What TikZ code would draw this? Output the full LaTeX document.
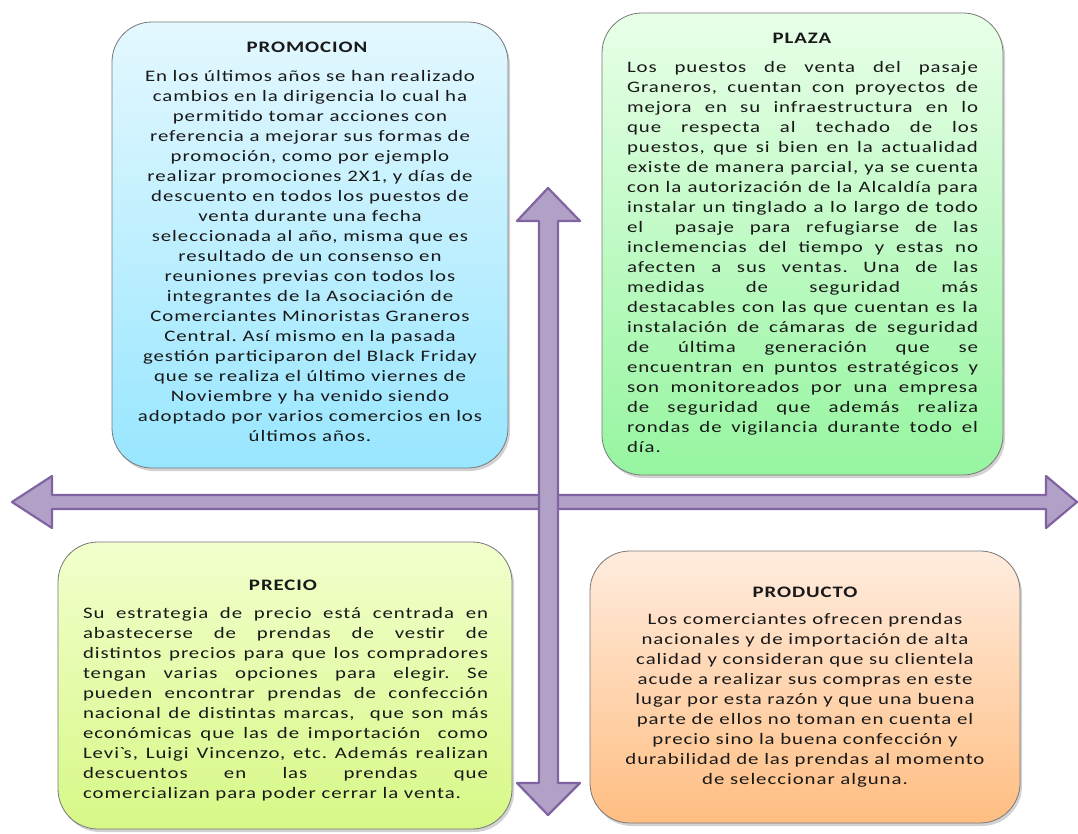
\documentclass[tikz,border=0pt]{standalone}
\usepackage{fontspec}
\newfontfamily\bx[FakeStretch=1.3,LetterSpace=6]{Carlito}
\usetikzlibrary{shadows}
\definecolor{arrfill}{RGB}{178,161,199}
\definecolor{arrline}{RGB}{128,100,162}
\definecolor{bluetop}{RGB}{228,248,255}
\definecolor{bluebot}{RGB}{152,230,255}
\definecolor{greentop}{RGB}{232,255,232}
\definecolor{greenbot}{RGB}{150,245,160}
\definecolor{limetop}{RGB}{242,255,205}
\definecolor{limebot}{RGB}{215,248,135}
\definecolor{orangetop}{RGB}{255,236,222}
\definecolor{orangebot}{RGB}{255,190,130}
\definecolor{boxline}{RGB}{120,120,120}
\definecolor{txt}{RGB}{25,25,25}
\newcommand\jl[2]{\makebox[#1][s]{#2}}
\frenchspacing
\begin{document}
\begin{tikzpicture}[x=1pt,y=-1pt,
  box/.style={draw=boxline, line width=0.8pt, rounded corners=40pt, inner sep=0pt,
    drop shadow={shadow xshift=2pt, shadow yshift=-3pt, opacity=0.35}},
  title/.style={inner sep=0pt, font=\frenchspacing\bx\bfseries\fontsize{16}{20}\selectfont, text=txt},
  body/.style={inner sep=0pt, font=\frenchspacing\bx\fontsize{16}{20}\selectfont, text=txt},
  arrowshape/.style={fill=arrfill, draw=arrline, line width=2.2pt, line join=round}]
\useasboundingbox (0,0) rectangle (1078,834);
\fill[white] (0,0) rectangle (1078,834);

% arrows
\draw[arrowshape] (12,502) -- (52,476) -- (52,495) -- (1046,495) -- (1046,476) -- (1077,502)
  -- (1046,528) -- (1046,509) -- (52,509) -- (52,528) -- cycle;
\draw[arrowshape] (548,188) -- (580,221) -- (558,221) -- (558,783) -- (580,783) -- (548,815)
  -- (517,783) -- (539,783) -- (539,221) -- (517,221) -- cycle;

% boxes
\node[box, top color=bluetop, bottom color=bluebot, minimum width=396pt, minimum height=446pt] (promo) at (310,245) {};
\node[box, top color=greentop, bottom color=greenbot, minimum width=401pt, minimum height=462pt] (plaza) at (802.5,244) {};
\node[box, top color=limetop, bottom color=limebot, minimum width=454pt, minimum height=287pt] (precio) at (285,685.5) {};
\node[box, top color=orangetop, bottom color=orangebot, minimum width=430pt, minimum height=272pt] (producto) at (805,687) {};

% PROMOCION
\node[title] (promoT) at (307,47) {PROMOCION};
\node[body, align=center] (promoB) at (310,256) {En los últimos años se han realizado\\
cambios en la dirigencia lo cual ha\\
permitido tomar acciones con\\
referencia a mejorar sus formas de\\
promoción, como por ejemplo\\
realizar promociones 2X1, y días de\\
descuento en todos los puestos de\\
venta durante una fecha\\
seleccionada al año, misma que es\\
resultado de un consenso en\\
reuniones previas con todos los\\
integrantes de la Asociación de\\
Comerciantes Minoristas Graneros\\
Central. Así mismo en la pasada\\
gestión participaron del Black Friday\\
que se realiza el último viernes de\\
Noviembre y ha venido siendo\\
adoptado por varios comercios en los\\
últimos años.};

% PLAZA
\node[title] (plazaT) at (802,38) {PLAZA};
\node[body, align=left] (plazaB) at (802.5,257.5) {\jl{351pt}{Los puestos de venta del pasaje}\\
\jl{351pt}{Graneros, cuentan con proyectos de}\\
\jl{351pt}{mejora en su infraestructura en lo}\\
\jl{351pt}{que respecta al techado de los}\\
\jl{351pt}{puestos, que si bien en la actualidad}\\
\jl{351pt}{existe de manera parcial, ya se cuenta}\\
\jl{351pt}{con la autorización de la Alcaldía para}\\
\jl{351pt}{instalar un tinglado a lo largo de todo}\\
\jl{351pt}{el \ pasaje para refugiarse de las}\\
\jl{351pt}{inclemencias del tiempo y estas no}\\
\jl{351pt}{afecten a sus ventas. Una de las}\\
\jl{351pt}{medidas de seguridad más}\\
\jl{351pt}{destacables con las que cuentan es la}\\
\jl{351pt}{instalación de cámaras de seguridad}\\
\jl{351pt}{de última generación que se}\\
\jl{351pt}{encuentran en puntos estratégicos y}\\
\jl{351pt}{son monitoreados por una empresa}\\
\jl{351pt}{de seguridad que además realiza}\\
\jl{351pt}{rondas de vigilancia durante todo el}\\
\makebox[351pt][l]{día.}};

% PRECIO
\node[title] (precioT) at (283,585) {PRECIO};
\node[body, align=left] (precioB) at (285.5,704) {\jl{405pt}{Su estrategia de precio está centrada en}\\
\jl{405pt}{abastecerse de prendas de vestir de}\\
\jl{405pt}{distintos precios para que los compradores}\\
\jl{405pt}{tengan varias opciones para elegir. Se}\\
\jl{405pt}{pueden encontrar prendas de confección}\\
\jl{405pt}{nacional de distintas marcas, \ que son más}\\
\jl{405pt}{económicas que las de importación \ como}\\
\jl{405pt}{Levi\textasciigrave s, Luigi Vincenzo, etc. Además realizan}\\
\jl{405pt}{descuentos en las prendas que}\\
\makebox[405pt][l]{comercializan para poder cerrar la venta.}};

% PRODUCTO
\node[title] (productoT) at (805,592) {PRODUCTO};
\node[body, align=center] (productoB) at (805,700) {Los comerciantes ofrecen prendas\\
nacionales y de importación de alta\\
calidad y consideran que su clientela\\
acude a realizar sus compras en este\\
lugar por esta razón y que una buena\\
parte de ellos no toman en cuenta el\\
precio sino la buena confección y\\
durabilidad de las prendas al momento\\
de seleccionar alguna.};
\end{tikzpicture}
\end{document}
